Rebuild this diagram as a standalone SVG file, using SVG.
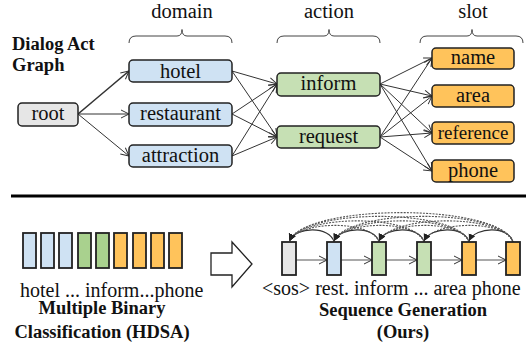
<svg xmlns="http://www.w3.org/2000/svg" width="529" height="351" viewBox="0 0 529 351">
<defs>
<style>
text{font-family:'Liberation Serif','Times New Roman',Tinos,'DejaVu Serif',serif}
.t{font-size:20.5px;fill:#111;text-anchor:middle}
.b{font-size:18.5px;font-weight:bold;fill:#111}
.box{stroke:#222;stroke-width:1.5}
.blue{fill:#cfe2f3}.green{fill:#c6e0b4}.orange{fill:#ffc35b}.gray{fill:#e6e6e6}.green2{fill:#a9d18e}
.e{stroke:#333;stroke-width:1;fill:none;marker-end:url(#open)}
.brace{fill:none;stroke:#444;stroke-width:1}
.bar{stroke:#222;stroke-width:1.8}
.arc{fill:none;stroke:#333;stroke-width:1.1;marker-end:url(#fill)}
.dash{stroke-dasharray:2 1.2;stroke:#555}
</style>
<marker id="open" markerWidth="10" markerHeight="10" refX="9" refY="5" orient="auto" markerUnits="userSpaceOnUse">
<path d="M1,1 L9,5 L1,9" fill="none" stroke="#333" stroke-width="1"/>
</marker>
<marker id="fill" markerWidth="8" markerHeight="8" refX="7" refY="4" orient="auto" markerUnits="userSpaceOnUse">
<path d="M0,0.5 L7,4 L0,7.5 Z" fill="#222"/>
</marker>
</defs>
<g font-family="Liberation Serif, Times New Roman, serif">
<text class="b" x="12" y="50">Dialog Act</text>
<text class="b" x="12" y="71">Graph</text>

<text class="t" x="182" y="18">domain</text>
<text class="t" x="329" y="18">action</text>
<text class="t" x="473" y="18">slot</text>
<path class="brace" d="M129,43 Q129,36 136,36 L177,36 Q182,36 182,29.5 Q182,36 187,36 L225,36 Q232,36 232,43"/>
<path class="brace" d="M277,43 Q277,36 284,36 L324,36 Q329,36 329,29.5 Q329,36 334,36 L373,36 Q380,36 380,43"/>
<path class="brace" d="M420,43 Q420,36 427,36 L467,36 Q472,36 472,29.5 Q472,36 477,36 L516,36 Q523,36 523,43"/>

<g id="connectors">
<path class="e" d="M78,114 L129,71" style="stroke-width:1.6"/>
<path class="e" d="M78,114 L129,114"/>
<path class="e" d="M78,114 L129,156"/>
<path class="e" d="M232,71 L277,84"/>
<path class="e" d="M232,71 L277,137"/>
<path class="e" d="M232,114 L277,84"/>
<path class="e" d="M232,114 L277,137"/>
<path class="e" d="M232,156 L277,84"/>
<path class="e" d="M232,156 L277,137"/>
<path class="e" d="M380,84 L432,58"/>
<path class="e" d="M380,84 L432,96"/>
<path class="e" d="M380,84 L432,133"/>
<path class="e" d="M380,84 L432,171"/>
<path class="e" d="M380,137 L432,58"/>
<path class="e" d="M380,137 L432,96"/>
<path class="e" d="M380,137 L432,133"/>
<path class="e" d="M380,137 L432,171"/>
</g>

<g id="root"><rect class="box gray" x="18" y="103" width="60" height="23" rx="4"/><text class="t" x="48" y="120">root</text></g>
<g id="hotel"><rect class="box blue" x="129" y="60" width="103" height="22" rx="4"/><text class="t" x="180.5" y="77.5">hotel</text></g>
<g id="restaurant"><rect class="box blue" x="129" y="103" width="103" height="23" rx="4"/><text class="t" x="180.5" y="120">restaurant</text></g>
<g id="attraction"><rect class="box blue" x="129" y="145" width="103" height="22" rx="4"/><text class="t" x="180.5" y="162">attraction</text></g>
<g id="inform"><rect class="box green" x="277" y="73" width="103" height="23" rx="4"/><text class="t" x="328.5" y="90">inform</text></g>
<g id="request"><rect class="box green" x="277" y="126" width="103" height="22" rx="4"/><text class="t" x="328.5" y="143">request</text></g>
<g id="name"><rect class="box orange" x="432" y="48" width="82" height="21" rx="4"/><text class="t" x="473" y="64">name</text></g>
<g id="area"><rect class="box orange" x="432" y="85" width="82" height="22" rx="4"/><text class="t" x="473" y="102">area</text></g>
<g id="reference"><rect class="box orange" x="432" y="122" width="82" height="22" rx="4"/><text class="t" x="473" y="139" style="font-size:19px">reference</text></g>
<g id="phone"><rect class="box orange" x="432" y="160" width="82" height="22" rx="4"/><text class="t" x="473" y="177">phone</text></g>

<line x1="11" y1="196" x2="526" y2="196" stroke="#000" stroke-width="3"/>

<g id="hdsa">
<rect class="bar blue" x="23" y="233" width="13" height="35"/>
<rect class="bar blue" x="41" y="233" width="13" height="35"/>
<rect class="bar blue" x="59" y="233" width="13" height="35"/>
<rect class="bar green2" x="78" y="233" width="13" height="35"/>
<rect class="bar green2" x="96" y="233" width="13" height="35"/>
<rect class="bar orange" x="114" y="233" width="13" height="35"/>
<rect class="bar orange" x="133" y="233" width="13" height="35"/>
<rect class="bar orange" x="151" y="233" width="13" height="35"/>
<rect class="bar orange" x="169" y="233" width="13" height="35"/>
<text class="t" x="20" y="297" style="font-size:20px;text-anchor:start">hotel ... inform...phone</text>
<text class="b" x="102" y="314" text-anchor="middle">Multiple Binary</text>
<text class="b" x="102" y="338" text-anchor="middle">Classification (HDSA)</text>
</g>

<path d="M211,253 L232,253 L232,242 L252,264 L232,287 L232,275 L211,275 Z" fill="#fff" stroke="#222" stroke-width="1.3"/>

<g id="seqarrows">
<path class="e" d="M296,260 L327,260" style="stroke:#555"/>
<path class="e" d="M341,260 L372,260" style="stroke:#555"/>
<path class="e" d="M386,260 L417,260" style="stroke:#555"/>
<path class="e" d="M431,260 L462,260" style="stroke:#555"/>
<path class="e" d="M476,260 L506,260" style="stroke:#555"/>
<path class="arc" d="M334,242 C330,226 296,226 289.5,241"/>
<path class="arc" d="M379,242 C375,226 341,226 334,241"/>
<path class="arc" d="M424,242 C420,226 386,226 379,241"/>
<path class="arc" d="M469,242 C465,226 431,226 424,241"/>
<path class="arc" d="M513,242 C509,226 476,226 469,241"/>
<path class="arc dash" d="M379,242 C372,220 300,220 289.5,241"/>
<path class="arc dash" d="M424,242 C417,220 345,220 334,241"/>
<path class="arc dash" d="M469,242 C462,220 390,220 379,241"/>
<path class="arc dash" d="M513,242 C506,220 435,220 424,241"/>
<path class="arc dash" d="M424,242 C415,214 302,214 289.5,241"/>
<path class="arc dash" d="M469,242 C460,214 347,214 334,241"/>
<path class="arc dash" d="M513,242 C504,214 392,214 379,241"/>
<path class="arc dash" d="M469,242 C458,208 303,208 289.5,241"/>
<path class="arc dash" d="M513,242 C502,208 348,208 334,241"/>
<path class="arc dash" d="M513,242 C500,203 305,203 289.5,241"/>
</g>

<g id="seq">
<rect class="bar gray" x="282" y="242" width="14" height="33"/>
<rect class="bar blue" x="327" y="242" width="14" height="33"/>
<rect class="bar green" x="372" y="242" width="14" height="33"/>
<rect class="bar green" x="417" y="242" width="14" height="33"/>
<rect class="bar orange" x="462" y="242" width="14" height="33"/>
<rect class="bar orange" x="506" y="242" width="14" height="33"/>
<text class="t" x="262" y="295" style="font-size:20px;text-anchor:start">&lt;sos&gt; rest. inform ... area phone</text>
<text class="b" x="403" y="316" text-anchor="middle">Sequence Generation</text>
<text class="b" x="403" y="338" text-anchor="middle">(Ours)</text>
</g>
</g>
</svg>
